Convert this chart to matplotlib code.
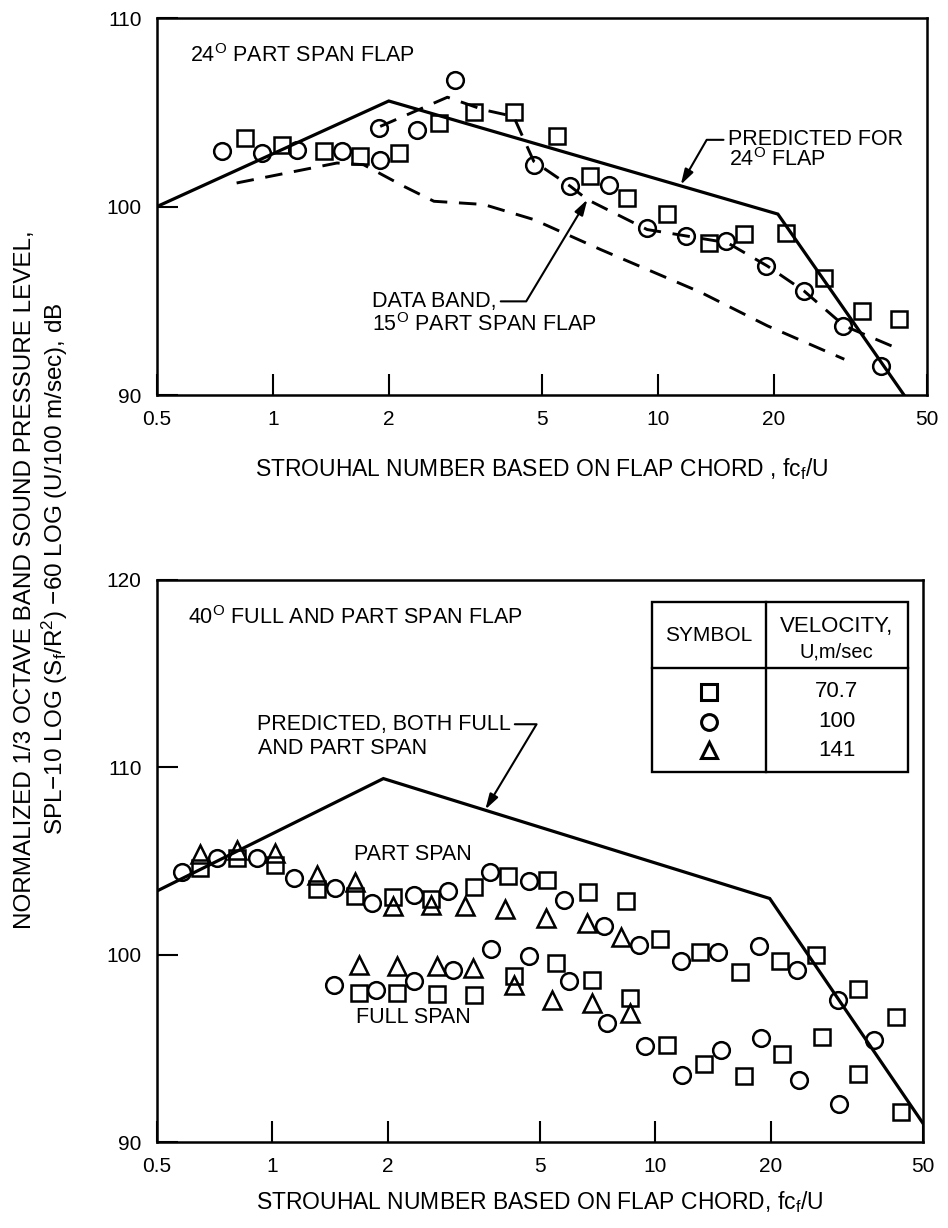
import matplotlib
matplotlib.use('Agg')
import matplotlib.pyplot as plt
from matplotlib.ticker import NullLocator
from matplotlib.patches import Rectangle
from matplotlib.lines import Line2D

plt.rcParams['font.family'] = ['Liberation Sans', 'DejaVu Sans']
plt.rcParams['mathtext.fontset'] = 'custom'
plt.rcParams['mathtext.rm'] = 'Liberation Sans'
plt.rcParams['mathtext.it'] = 'Liberation Sans:italic'
plt.rcParams['mathtext.bf'] = 'Liberation Sans:bold'

# ---- top panel: 24 deg part span flap ----
pred24_x = [0.5, 2.0, 20.5, 43.6]
pred24_y = [100.0, 105.6, 99.6, 90.0]

band_lo_x = [0.805, 1.467, 1.72, 2.19, 2.62, 3.53, 4.76, 7.10, 12.92, 19.27, 30.5]
band_lo_y = [101.25, 102.31, 102.22, 101.07, 100.28, 100.11, 99.31, 97.72, 95.45, 93.67, 91.9]

band_hi_x = [1.90, 2.84, 3.53, 4.22, 4.76, 5.93, 6.56, 9.38, 11.93, 15.16, 19.27, 23.97, 30.5, 42.4]
band_hi_y = [104.25, 105.8, 105.13, 104.78, 102.4, 101.07, 100.37, 98.78, 98.43, 98.08, 96.84, 95.52, 93.67, 92.43]

top_sq_x = [0.847, 1.055, 1.354, 1.687, 2.12, 2.70, 3.32, 4.22, 5.48, 6.68, 8.33, 10.58,
            13.58, 16.74, 21.5, 27.0, 34.0, 42.4]
top_sq_y = [103.63, 103.28, 102.93, 102.66, 102.84, 104.43, 105.04, 105.04, 103.72, 101.6,
            100.46, 99.58, 98.08, 98.52, 98.61, 96.23, 94.46, 94.02]

top_ci_x = [0.737, 0.936, 1.154, 1.511, 1.90, 1.89, 2.37, 2.98, 4.76, 5.93, 7.46, 9.38,
            11.8, 15.0, 19.07, 23.97, 30.2, 37.96]
top_ci_y = [102.93, 102.84, 103.02, 102.93, 102.49, 104.16, 104.07, 106.72, 102.22, 101.07,
            101.16, 98.87, 98.43, 98.16, 96.84, 95.52, 93.67, 91.55]

# ---- bottom panel: 40 deg full and part span flap ----
pred40_x = [0.5, 1.95, 19.9, 50.0]
pred40_y = [103.4, 109.4, 103.0, 91.0]

part_sq_x = [0.648, 0.808, 1.017, 1.308, 1.647, 2.066, 2.60, 3.36, 4.12, 5.22, 6.67, 8.41,
             10.28, 13.08, 16.64, 21.18, 26.25, 33.8, 42.5]
part_sq_y = [104.64, 105.17, 104.81, 103.51, 103.12, 103.09, 102.98, 103.62, 104.22, 104.01,
             103.33, 102.85, 100.84, 100.12, 99.05, 99.64, 100.0, 98.17, 96.67]
part_ci_x = [0.58, 0.716, 0.911, 1.141, 1.46, 1.82, 2.34, 2.88, 3.71, 4.67, 5.77, 7.34,
             9.06, 11.65, 14.58, 18.66, 23.5, 30.0, 37.3]
part_ci_y = [104.40, 105.17, 105.17, 104.10, 103.57, 102.76, 103.16, 103.39, 104.40, 103.92,
             102.94, 101.55, 100.53, 99.64, 100.12, 100.44, 99.16, 97.59, 95.45]
part_tr_x = [0.648, 0.808, 1.017, 1.308, 1.647, 2.066, 2.60, 3.19, 4.06, 5.17, 6.64, 8.15]
part_tr_y = [105.35, 105.61, 105.44, 104.28, 103.87, 102.58, 102.67, 102.58, 102.44, 101.96,
             101.69, 100.95]

full_sq_x = [1.68, 2.12, 2.70, 3.37, 4.27, 5.49, 6.85, 8.58, 10.75, 13.41, 17.05, 21.36,
             27.3, 33.8, 43.8]
full_sq_y = [97.95, 97.95, 97.90, 97.86, 98.88, 99.55, 98.66, 97.68, 95.19, 94.17, 93.53,
             94.71, 95.63, 93.64, 91.62]
full_ci_x = [1.445, 1.87, 2.35, 2.97, 3.73, 4.67, 5.95, 7.46, 9.40, 11.72, 14.82, 18.86,
             23.66, 30.2]
full_ci_y = [98.40, 98.13, 98.61, 99.16, 100.30, 99.91, 98.57, 96.38, 95.10, 93.58, 94.92,
             95.54, 93.32, 92.03]
full_tr_x = [1.68, 2.12, 2.70, 3.34, 4.27, 5.38, 6.82, 8.58]
full_tr_y = [99.47, 99.38, 99.38, 99.29, 98.40, 97.59, 97.42, 96.88]

legend_symbols = ['s', 'o', '^']
legend_velocity = ['70.7', '100', '141']

xticks = [0.5, 1, 2, 5, 10, 20, 50]
xtick_labels = ['0.5', '1', '2', '5', '10', '20', '50']

MS = {'s': 11.5, 'o': 12, '^': 12.5}
FS = 15.5  # annotation text size


def marks(ax, x, y, m):
    ax.plot(x, y, ls='none', marker=m, ms=MS[m], mfc='none', mec='k', mew=1.8, zorder=3)


def style_axes(ax, ylim, yticks):
    ax.set_xscale('log')
    ax.set_xlim(0.5, 50)
    ax.set_ylim(*ylim)
    ax.set_xticks(xticks)
    ax.set_xticklabels(xtick_labels)
    ax.xaxis.set_minor_locator(NullLocator())
    ax.set_yticks(yticks)
    ax.set_yticklabels([str(t) for t in yticks])
    ax.tick_params(direction='in', length=15, width=1.5, labelsize=15, pad=11,
                   top=False, right=False)
    for sp in ax.spines.values():
        sp.set_linewidth(1.8)


fig = plt.figure(figsize=(9.48, 12.28), dpi=100)
ax1 = fig.add_axes([0.1656, 0.6783, 0.8122, 0.3070])
ax2 = fig.add_axes([0.1656, 0.0700, 0.8080, 0.4577])

# top panel
ax1.plot(pred24_x, pred24_y, color='k', lw=2.3, solid_joinstyle='miter', zorder=2)
ax1.plot(band_lo_x, band_lo_y, color='k', lw=2.1, dashes=(6, 4), zorder=2)
ax1.plot(band_hi_x, band_hi_y, color='k', lw=2.1, dashes=(6, 4), zorder=2)
marks(ax1, top_sq_x, top_sq_y, 's')
marks(ax1, top_ci_x, top_ci_y, 'o')
style_axes(ax1, (90, 110), [90, 100, 110])
ax1.set_xlabel('STROUHAL NUMBER BASED ON FLAP CHORD , fc$_\\mathregular{f}$/U',
               fontsize=16.5, labelpad=19)

ax1.text(0.043, 0.9, '24$^\\mathregular{O}$ PART SPAN FLAP', transform=ax1.transAxes,
         fontsize=FS, ha='left', va='center')

arrow_kw = dict(arrowstyle='-|>,head_length=0.6,head_width=0.18', color='k', lw=1.5,
                shrinkA=1, shrinkB=0)
ax1.annotate('PREDICTED FOR', xy=(11.47, 101.16), xytext=(15.18, 103.54),
             fontsize=FS, ha='left', va='center',
             arrowprops=dict(connectionstyle='angle,angleA=0,angleB=60,rad=0',
                             relpos=(0, 0.5), **arrow_kw))
ax1.text(15.3, 102.49, '24$^\\mathregular{O}$ FLAP', fontsize=FS, ha='left', va='center')
ax1.annotate('DATA BAND,', xy=(6.56, 100.37), xytext=(1.81, 94.97),
             fontsize=FS, ha='left', va='center',
             arrowprops=dict(connectionstyle='angle,angleA=0,angleB=59,rad=0',
                             relpos=(1, 0.5), **arrow_kw))
ax1.text(1.81, 93.76, '15$^\\mathregular{O}$ PART SPAN FLAP', fontsize=FS,
         ha='left', va='center')

# bottom panel
ax2.plot(pred40_x, pred40_y, color='k', lw=2.3, solid_joinstyle='miter', zorder=2)
marks(ax2, part_sq_x, part_sq_y, 's')
marks(ax2, part_ci_x, part_ci_y, 'o')
marks(ax2, part_tr_x, part_tr_y, '^')
marks(ax2, full_sq_x, full_sq_y, 's')
marks(ax2, full_ci_x, full_ci_y, 'o')
marks(ax2, full_tr_x, full_tr_y, '^')
style_axes(ax2, (90, 120), [90, 100, 110, 120])
ax2.set_xlabel('STROUHAL NUMBER BASED ON FLAP CHORD, fc$_\\mathregular{f}$/U',
               fontsize=16.5, labelpad=9)

ax2.text(0.0405, 0.934, '40$^\\mathregular{O}$ FULL AND PART SPAN FLAP',
         transform=ax2.transAxes, fontsize=FS, ha='left', va='center')
ax2.annotate('PREDICTED, BOTH FULL', xy=(3.60, 107.75), xytext=(0.911, 112.30),
             fontsize=FS, ha='left', va='center',
             arrowprops=dict(connectionstyle='angle,angleA=0,angleB=59,rad=0',
                             relpos=(1, 0.5), **arrow_kw))
ax2.text(0.915, 111.02, 'AND PART SPAN', fontsize=FS, ha='left', va='center')
ax2.text(2.33, 105.35, 'PART SPAN', fontsize=FS, ha='center', va='center')
ax2.text(2.33, 96.63, 'FULL SPAN', fontsize=FS, ha='center', va='center')

# symbol table
tx0, tx1, txd = 0.6467, 0.980, 0.7948
ty0, ty1, tyh = 0.6589, 0.9614, 0.8429
ax2.add_patch(Rectangle((tx0, ty0), tx1 - tx0, ty1 - ty0, transform=ax2.transAxes,
                        fill=False, lw=1.7, ec='k', zorder=4))
ax2.add_line(Line2D([txd, txd], [ty0, ty1], transform=ax2.transAxes, color='k', lw=1.7))
ax2.add_line(Line2D([tx0, tx1], [tyh, tyh], transform=ax2.transAxes, color='k', lw=1.7))
ax2.text((tx0 + txd) / 2, 0.9021, 'SYMBOL', transform=ax2.transAxes, fontsize=15,
         ha='center', va='center')
ax2.text((txd + tx1) / 2, 0.9169, 'VELOCITY,', transform=ax2.transAxes, fontsize=16,
         ha='center', va='center')
ax2.text((txd + tx1) / 2, 0.8725, 'U,m/sec', transform=ax2.transAxes, fontsize=14.5,
         ha='center', va='center')
row_y = [0.8013, 0.7479, 0.6975]
for sym, vel, ry in zip(legend_symbols, legend_velocity, row_y):
    ax2.plot([(tx0 + txd) / 2], [ry], transform=ax2.transAxes, ls='none', marker=sym,
             ms=MS[sym] * 0.95, mfc='none', mec='k', mew=2.2, clip_on=False)
    ax2.text((txd + tx1) / 2, ry, vel, transform=ax2.transAxes, fontsize=16,
             ha='center', va='center')

# shared y label
fig.text(25 / 948, 1 - 580 / 1228, 'NORMALIZED 1/3 OCTAVE BAND SOUND PRESSURE LEVEL,',
         rotation=90, fontsize=17.5, ha='center', va='center')
fig.text(55 / 948, 1 - 569 / 1228,
         'SPL\u221210 LOG (S$_\\mathregular{f}$/R$^\\mathregular{2}$) \u221260 LOG (U/100 m/sec), dB',
         rotation=90, fontsize=17.5, ha='center', va='center')

fig.savefig('out.png', dpi=100)
